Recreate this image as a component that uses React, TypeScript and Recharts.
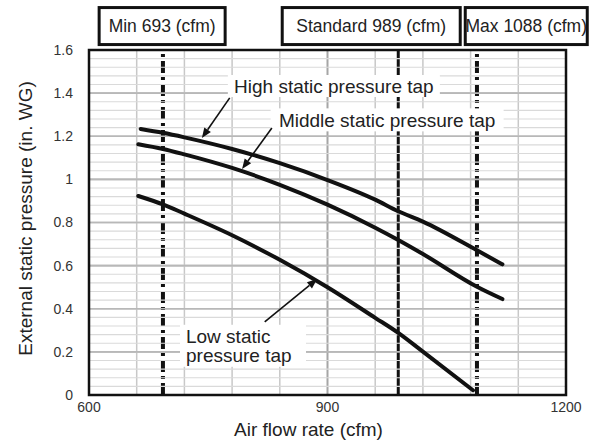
import React from 'react';
import { LineChart, Line, XAxis, YAxis, CartesianGrid, ReferenceLine, ReferenceDot, ReferenceArea } from 'recharts';

const FONT = '"Liberation Sans", Arial, sans-serif';

// Axis ticks
const xTicks = [600, 900, 1200];
const xDomain = [600, 1200];
const yTicks = [0, 0.2, 0.4, 0.6, 0.8, 1, 1.2, 1.4, 1.6];
const yDomain = [0, 1.6];
const xGridMinor = [660, 720, 780, 840, 960, 1020, 1080, 1140];
const xGridMajor = [900];
const yGridMajor = [0.2, 0.4, 0.6, 0.8, 1, 1.2, 1.4];
const yGridMinor = [
  0.04, 0.08, 0.12, 0.16, 0.24, 0.28, 0.32, 0.36, 0.44, 0.48, 0.52, 0.56,
  0.64, 0.68, 0.72, 0.76, 0.84, 0.88, 0.92, 0.96, 1.04, 1.08, 1.12, 1.16,
  1.24, 1.28, 1.32, 1.36, 1.44, 1.48, 1.52, 1.56,
];

// Series: High static pressure tap
const highCfm = [665, 693, 720, 780, 840, 900, 960, 989, 1020, 1088, 1120];
const highPressure = [1.234, 1.216, 1.195, 1.141, 1.075, 0.997, 0.906, 0.852, 0.804, 0.671, 0.606];
// Middle static pressure tap
const midCfm = [662, 693, 720, 780, 840, 900, 960, 989, 1020, 1088, 1120];
const midPressure = [1.163, 1.141, 1.116, 1.053, 0.975, 0.883, 0.776, 0.719, 0.654, 0.502, 0.445];
// Low static pressure tap
const lowCfm = [662, 693, 720, 780, 840, 900, 960, 989, 1020, 1083];
const lowPressure = [0.923, 0.884, 0.841, 0.741, 0.627, 0.5, 0.358, 0.288, 0.201, 0.022];

// Operating points
const markerCfm = [693, 989, 1088];
const markerLabels = ['Min 693 (cfm)', 'Standard 989 (cfm)', 'Max 1088 (cfm)'];
const markerBoxCenters = [692, 955, 1150];
const markerBoxLevel = 1.711;

// Annotation anchors (data coords)
const highLabel = { x: 908, y: 1.433, text: 'High static pressure tap' };
const midLabel = { x: 975, y: 1.276, text: 'Middle static pressure tap' };
const lowLabel = { x: 722, y: 0.27, lines: ['Low static', 'pressure tap'] };
const highArrow = [{ x: 777, y: 1.378 }, { x: 742, y: 1.192 }];
const midArrow = [{ x: 830, y: 1.238 }, { x: 792.5, y: 1.048 }];
const lowArrow = [{ x: 821, y: 0.339 }, { x: 887, y: 0.538 }];

const toData = (xs: number[], ys: number[]) => xs.map((x, i) => ({ cfm: x, p: ys[i] }));
const highData = toData(highCfm, highPressure);
const midData = toData(midCfm, midPressure);
const lowData = toData(lowCfm, lowPressure);

const boxWidths = [126, 178, 122];

const HeaderBox = (props: any, i: number) => {
  const { cx, cy } = props;
  if (cx == null || cy == null) return <g />;
  const w = boxWidths[i];
  const h = 37;
  return (
    <g>
      <rect x={cx - w / 2} y={cy - h / 2} width={w} height={h} fill="#fff" stroke="#111" strokeWidth={3} />
      <text x={cx} y={cy + 6} textAnchor="middle" fontFamily={FONT} fontSize={17.5} fill="#222">
        {markerLabels[i]}
      </text>
    </g>
  );
};

const CenterLabel = (props: any, text: string, w: number, h: number) => {
  const { cx, cy } = props;
  if (cx == null || cy == null) return <g />;
  return (
    <g>
      <rect x={cx - w / 2} y={cy - h / 2} width={w} height={h} fill="#fff" />
      <text x={cx} y={cy + 7} textAnchor="middle" fontFamily={FONT} fontSize={19} fill="#222">
        {text}
      </text>
    </g>
  );
};

const LowLabelShape = (props: any) => {
  const { cx, cy } = props;
  if (cx == null || cy == null) return <g />;
  return (
    <g>
      <rect x={cx - 6} y={cy - 12} width={126} height={42} fill="#fff" />
      <text x={cx} y={cy + 6} fontFamily={FONT} fontSize={19} fill="#222">{lowLabel.lines[0]}</text>
      <text x={cx} y={cy + 25} fontFamily={FONT} fontSize={19} fill="#222">{lowLabel.lines[1]}</text>
    </g>
  );
};

const ArrowShape = (props: any) => {
  const { x1, y1, x2, y2 } = props;
  if ([x1, y1, x2, y2].some((v) => v == null || isNaN(v))) return <g />;
  const ang = Math.atan2(y2 - y1, x2 - x1);
  const L = 10;
  const W = 4;
  const bx = x2 - L * Math.cos(ang);
  const by = y2 - L * Math.sin(ang);
  const px = -Math.sin(ang) * W;
  const py = Math.cos(ang) * W;
  return (
    <g>
      <line x1={x1} y1={y1} x2={bx} y2={by} stroke="#111" strokeWidth={1.6} />
      <polygon points={`${x2},${y2} ${bx + px},${by + py} ${bx - px},${by - py}`} fill="#111" />
    </g>
  );
};

const XTitle = (props: any) => {
  const vb = props.viewBox || { x: 89, y: 395, width: 477, height: 30 };
  return (
    <text x={vb.x + vb.width / 2 - 19} y={vb.y + 41} textAnchor="middle" fontFamily={FONT} fontSize={19} fill="#222">
      Air flow rate (cfm)
    </text>
  );
};

const YTitle = (props: any) => {
  const vb = props.viewBox || { x: 29, y: 50, width: 60, height: 345 };
  const cx = vb.x - 4;
  const cy = vb.y + vb.height / 2 - 4;
  return (
    <text x={cx} y={cy} transform={`rotate(-90, ${cx}, ${cy})`} textAnchor="middle" dominantBaseline="central" fontFamily={FONT} fontSize={19} fill="#222">
      External static pressure (in. WG)
    </text>
  );
};

export default function App() {
  return (
    <div style={{ position: 'absolute', left: 0, top: 0, width: 597, height: 443, background: '#fff' }}>
      <LineChart width={597} height={443} margin={{ top: 50, right: 31, bottom: 18, left: 29 }}>
        <CartesianGrid yAxisId="minor" vertical={false} stroke="#dadada" strokeWidth={1.2} />
        <CartesianGrid vertical={false} stroke="#b8b8b8" strokeWidth={1.6} />
        <CartesianGrid horizontal={false} verticalValues={xGridMinor} stroke="#c8c8c8" strokeWidth={1.5} />
        <CartesianGrid horizontal={false} verticalValues={xGridMajor} stroke="#a6a6a6" strokeWidth={2} />
        <XAxis
          type="number"
          dataKey="cfm"
          domain={xDomain}
          ticks={xTicks}
          height={30}
          tickLine={false}
          tickSize={0}
          tickMargin={7}
          axisLine={false}
          tick={{ fontSize: 14, fill: '#333', fontFamily: FONT }}
          label={{ content: XTitle }}
        />
        <YAxis
          type="number"
          domain={yDomain}
          ticks={yTicks}
          width={60}
          tickLine={false}
          tickSize={0}
          tickMargin={16}
          axisLine={false}
          tick={{ fontSize: 14, fill: '#333', fontFamily: FONT }}
          label={{ content: YTitle }}
        />
        <YAxis yAxisId="minor" type="number" domain={yDomain} ticks={yGridMinor} interval={0} hide />
        {yGridMinor.map((v) => (
          <ReferenceLine key={'m' + v} y={v} stroke="#dadada" strokeWidth={1.2} />
        ))}
        {yGridMajor.map((v) => (
          <ReferenceLine key={'M' + v} y={v} stroke="#b8b8b8" strokeWidth={1.6} />
        ))}
        <ReferenceLine x={markerCfm[0]} stroke="#111" strokeWidth={4} strokeDasharray="12 4 3 4" zIndex={350} />
        <ReferenceLine x={markerCfm[1]} stroke="#111" strokeWidth={3} zIndex={350} />
        <ReferenceLine x={markerCfm[2]} stroke="#111" strokeWidth={4} strokeDasharray="12 4 3 4" zIndex={350} />
        <Line data={highData} dataKey="p" type="monotone" stroke="#111" strokeWidth={4} dot={false} isAnimationActive={false} strokeLinecap="round" />
        <Line data={midData} dataKey="p" type="monotone" stroke="#111" strokeWidth={4} dot={false} isAnimationActive={false} strokeLinecap="round" />
        <Line data={lowData} dataKey="p" type="monotone" stroke="#111" strokeWidth={4} dot={false} isAnimationActive={false} strokeLinecap="round" />
        <ReferenceArea x1={600} x2={1200} y1={0} y2={1.6} fill="none" fillOpacity={0} stroke="#111" strokeWidth={2.5} zIndex={1400} />
        <ReferenceDot x={highLabel.x} y={highLabel.y} r={1} ifOverflow="visible" zIndex={1500} shape={(p: any) => CenterLabel(p, highLabel.text, 212, 22)} />
        <ReferenceDot x={midLabel.x} y={midLabel.y} r={1} ifOverflow="visible" zIndex={1500} shape={(p: any) => CenterLabel(p, midLabel.text, 233, 23)} />
        <ReferenceDot x={lowLabel.x} y={lowLabel.y} r={1} ifOverflow="visible" zIndex={1500} shape={LowLabelShape} />
        <ReferenceLine segment={highArrow} ifOverflow="visible" zIndex={1600} shape={ArrowShape} />
        <ReferenceLine segment={midArrow} ifOverflow="visible" zIndex={1600} shape={ArrowShape} />
        <ReferenceLine segment={lowArrow} ifOverflow="visible" zIndex={1600} shape={ArrowShape} />
        {markerBoxCenters.map((c, i) => (
          <ReferenceDot key={i} x={c} y={markerBoxLevel} r={1} ifOverflow="visible" zIndex={1700} shape={(p: any) => HeaderBox(p, i)} />
        ))}
      </LineChart>
    </div>
  );
}
